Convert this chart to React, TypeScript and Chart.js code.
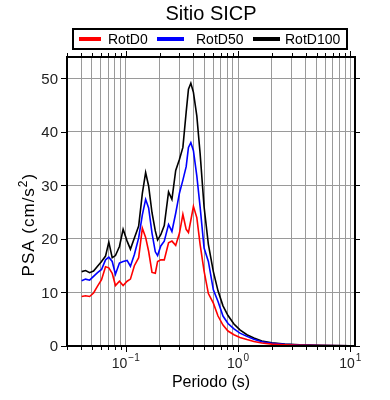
import React, { useEffect, useRef } from "react";
import { Chart, registerables } from "chart.js";

Chart.register(...registerables);

const periods = [
  0.0405, 0.0439, 0.0477, 0.0517, 0.0561, 0.0609, 0.0661, 0.0707, 0.0758, 0.081,
  0.0879, 0.0948, 0.1029, 0.1101, 0.1194, 0.1304, 0.1406, 0.1504, 0.1599, 0.1714,
  0.1834, 0.1922, 0.2051, 0.2203, 0.2406, 0.2578, 0.2786, 0.3011, 0.3228, 0.3453,
  0.3619, 0.38, 0.4007, 0.4295, 0.4595, 0.4985, 0.5443, 0.6028, 0.6633, 0.7346,
  0.8138, 0.9198, 1.0395, 1.1992, 1.3836, 1.6288, 1.998, 2.605, 3.538, 5.322, 10.0,
];

const rotD0 = [
  9.25, 9.4, 9.25, 9.9, 11.2, 12.4, 14.8, 14.6, 13.6, 11.3,
  12.1, 11.3, 12.1, 12.5, 15.0, 16.5, 22.0, 20.3, 17.7, 13.75,
  13.6, 15.8, 16.1, 16.1, 19.3, 19.6, 18.8, 21.1, 24.6, 21.8,
  21.2, 23.5, 26.1, 24.0, 19.0, 14.0, 9.8, 8.0, 5.6, 3.9,
  2.8, 2.1, 1.6, 1.2, 0.85, 0.55, 0.35, 0.22, 0.13, 0.07, 0.02,
];

const rotD50 = [
  12.2, 12.5, 12.3, 13.0, 13.7, 14.3, 16.1, 16.6, 15.8, 13.4,
  15.5, 15.8, 16.0, 14.9, 17.1, 20.2, 24.5, 27.4, 25.8, 21.1,
  17.6, 16.9, 18.7, 19.6, 22.7, 21.4, 24.8, 28.6, 31.0, 33.5,
  37.1, 38.0, 36.5, 31.8, 26.0, 18.3, 15.8, 10.5, 8.3, 5.6,
  4.2, 3.2, 2.4, 1.8, 1.25, 0.8, 0.5, 0.3, 0.17, 0.09, 0.03,
];

const rotD100 = [
  13.9, 14.1, 13.7, 14.0, 14.9, 15.8, 16.8, 19.4, 16.5, 16.9,
  18.6, 21.8, 19.6, 18.1, 20.2, 22.4, 28.5, 32.4, 29.9, 24.9,
  21.5, 19.8, 20.8, 22.5, 28.8, 27.4, 32.8, 34.9, 37.1, 43.7,
  48.0, 49.1, 47.4, 43.0, 36.0, 26.0, 19.0, 13.9, 10.3, 7.5,
  5.7, 4.1, 3.0, 2.1, 1.5, 0.95, 0.6, 0.38, 0.22, 0.12, 0.05,
];

const seriesLabels = ["RotD0", "RotD50", "RotD100"];
const seriesColors = ["#ff0000", "#0000ff", "#000000"];
const seriesValues = [rotD0, rotD50, rotD100];

const xGridValues = [
  0.03, 0.04, 0.05, 0.06, 0.07, 0.08, 0.09,
  0.1, 0.2, 0.3, 0.4, 0.5, 0.6, 0.7, 0.8, 0.9,
  1, 2, 3, 4, 5, 6, 7, 8, 9, 10,
];
const xMajorValues = [0.1, 1, 10];
const xMajorExponents = ["\u22121", "0", "1"];
const yTickValues = [0, 10, 20, 30, 40, 50];

const titleText = "Sitio SICP";
const xTitleText = "Periodo (s)";
const yTitleMain = "PSA (cm/s";
const yTitleSup = "2";
const yTitleEnd = ")";

const FONT = "'Liberation Sans', Arial, Helvetica, sans-serif";

const framePlugin = {
  id: "framePlugin",
  afterDraw(chart: any) {
    const ctx = chart.ctx;
    const { left, right, top, bottom } = chart.chartArea;
    const xs = chart.scales.x;
    const ys = chart.scales.y;
    ctx.save();

    // frame
    ctx.strokeStyle = "#000";
    ctx.lineWidth = 2;
    ctx.strokeRect(left, top, right - left, bottom - top);

    // x ticks (bottom and top)
    ctx.lineWidth = 1;
    xGridValues.forEach((v) => {
      const px = Math.round(xs.getPixelForValue(v)) + 0.5;
      const len = xMajorValues.includes(v) ? 5 : 3;
      ctx.beginPath();
      ctx.moveTo(px, bottom + 1);
      ctx.lineTo(px, bottom + 1 + len);
      ctx.moveTo(px, top - 1);
      ctx.lineTo(px, top - 1 - len);
      ctx.stroke();
    });

    // y ticks (left and right)
    yTickValues.forEach((v) => {
      const py = Math.round(ys.getPixelForValue(v)) + 0.5;
      ctx.beginPath();
      ctx.moveTo(left - 1, py);
      ctx.lineTo(left - 6, py);
      ctx.moveTo(right + 1, py);
      ctx.lineTo(right + 5, py);
      ctx.stroke();
    });

    // y tick labels
    ctx.fillStyle = "#222";
    ctx.font = `15px ${FONT}`;
    ctx.textAlign = "right";
    ctx.textBaseline = "middle";
    yTickValues.forEach((v) => {
      const py = ys.getPixelForValue(v);
      ctx.fillText(String(v), left - 9, py + 1);
    });

    // x tick labels with superscripts
    ctx.textBaseline = "alphabetic";
    ctx.textAlign = "left";
    xMajorValues.forEach((v, i) => {
      const px = xs.getPixelForValue(v);
      ctx.font = `14px ${FONT}`;
      const wBase = ctx.measureText("10").width;
      ctx.font = `10px ${FONT}`;
      const wExp = ctx.measureText(xMajorExponents[i]).width;
      const start = px - (wBase + wExp + 1) / 2;
      ctx.font = `14px ${FONT}`;
      ctx.fillText("10", start, bottom + 22);
      ctx.font = `10px ${FONT}`;
      ctx.fillText(xMajorExponents[i], start + wBase + 1, bottom + 15);
    });

    // x title
    ctx.fillStyle = "#000";
    ctx.font = `16px ${FONT}`;
    ctx.textAlign = "center";
    ctx.textBaseline = "middle";
    ctx.fillText(xTitleText, (left + right) / 2, bottom + 37);

    // y title (rotated)
    ctx.save();
    const cy = top + (bottom - top) * 0.58;
    ctx.translate(28, cy);
    ctx.rotate(-Math.PI / 2);
    (ctx as any).letterSpacing = "1px";
    ctx.font = `17px ${FONT}`;
    const w1 = ctx.measureText(yTitleMain).width;
    ctx.font = `12px ${FONT}`;
    const w2 = ctx.measureText(yTitleSup).width;
    ctx.font = `17px ${FONT}`;
    const w3 = ctx.measureText(yTitleEnd).width;
    const total = w1 + w2 + w3;
    const x0 = -total / 2;
    ctx.textAlign = "left";
    ctx.textBaseline = "alphabetic";
    ctx.fillText(yTitleMain, x0, 6);
    ctx.font = `12px ${FONT}`;
    ctx.fillText(yTitleSup, x0 + w1, -1);
    ctx.font = `17px ${FONT}`;
    ctx.fillText(yTitleEnd, x0 + w1 + w2, 6);
    (ctx as any).letterSpacing = "0px";
    ctx.restore();

    // chart title
    ctx.font = `20px ${FONT}`;
    ctx.textAlign = "center";
    ctx.textBaseline = "alphabetic";
    ctx.fillText(titleText, (left + right) / 2, 20);

    // legend box
    const bx = left + 6;
    const bw = right - 8 - bx;
    const by = 29;
    const bh = 20;
    ctx.fillStyle = "#fff";
    ctx.fillRect(bx, by, bw, bh);
    ctx.strokeStyle = "#000";
    ctx.lineWidth = 2;
    ctx.strokeRect(bx, by, bw, bh);
    const lineStarts = [bx + 6, bx + 84, bx + 180];
    const lineLens = [22, 27, 27];
    const textStarts = [bx + 35, bx + 123, bx + 212];
    ctx.font = `14px ${FONT}`;
    ctx.textAlign = "left";
    ctx.textBaseline = "middle";
    chart.data.datasets.forEach((ds: any, i: number) => {
      ctx.strokeStyle = ds.borderColor;
      ctx.lineWidth = 4;
      ctx.beginPath();
      ctx.moveTo(lineStarts[i], by + bh / 2);
      ctx.lineTo(lineStarts[i] + lineLens[i], by + bh / 2);
      ctx.stroke();
      ctx.fillStyle = "#000";
      ctx.fillText(ds.label, textStarts[i], by + bh / 2 + 1);
    });

    ctx.restore();
  },
};

export default function App() {
  const canvasRef = useRef<HTMLCanvasElement | null>(null);

  useEffect(() => {
    const canvas = canvasRef.current;
    if (!canvas) return;
    const chart = new Chart(canvas, {
      type: "line",
      data: {
        datasets: seriesLabels.map((label, i) => ({
          label,
          data: periods.map((p, j) => ({ x: p, y: seriesValues[i][j] })),
          borderColor: seriesColors[i],
          backgroundColor: seriesColors[i],
          borderWidth: 1.6,
          pointRadius: 0,
          tension: 0,
          fill: false,
        })),
      },
      options: {
        responsive: false,
        animation: false,
        layout: { padding: { top: 57, right: 35, left: 0, bottom: 0 } },
        plugins: {
          legend: { display: false },
          title: { display: false },
          tooltip: { enabled: false },
        },
        scales: {
          x: {
            type: "logarithmic",
            min: 0.03,
            max: 11,
            afterBuildTicks: (s: any) => {
              s.ticks = xGridValues.map((v) => ({ value: v }));
            },
            afterFit: (s: any) => {
              s.height = 54;
            },
            ticks: { display: false },
            grid: { color: "#9a9a9a", lineWidth: 1, drawTicks: false },
            border: { display: false },
          },
          y: {
            type: "linear",
            min: 0,
            max: 54,
            afterBuildTicks: (s: any) => {
              s.ticks = yTickValues.map((v) => ({ value: v }));
            },
            afterFit: (s: any) => {
              s.width = 67;
            },
            ticks: { display: false },
            grid: { color: "#9a9a9a", lineWidth: 1, drawTicks: false },
            border: { display: false },
          },
        },
      },
      plugins: [framePlugin],
    });
    return () => chart.destroy();
  }, []);

  return (
    <div style={{ position: "fixed", left: 0, top: 0, width: 390, height: 400, background: "#fff" }}>
      <canvas ref={canvasRef} width={390} height={400} style={{ width: 390, height: 400, display: "block" }} />
    </div>
  );
}
